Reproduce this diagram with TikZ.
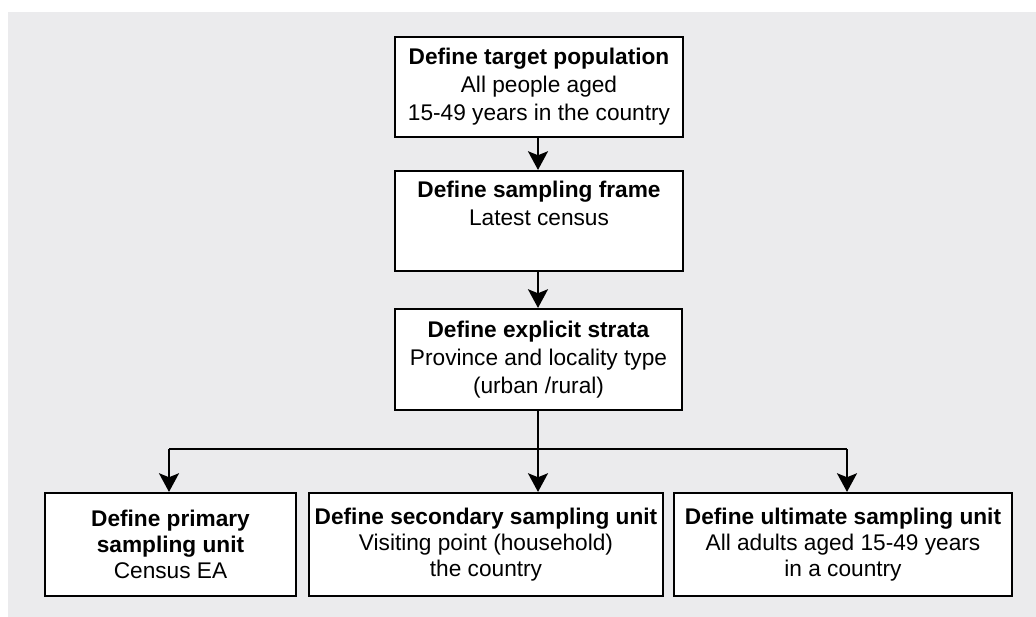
\documentclass[tikz,border=0pt]{standalone}
\usepackage{fontspec}
\setmainfont{Liberation Sans}
\usetikzlibrary{arrows.meta}
\definecolor{bggrey}{HTML}{EBEBED}
\begin{document}
\begin{tikzpicture}[x=0.75pt,y=-0.75pt,
  boxstyle/.style={draw=black, fill=white, line width=1.6pt, align=center,
    font=\fontsize{17pt}{21pt}\selectfont, inner sep=0pt},
  lowbox/.style={boxstyle, font=\fontsize{17pt}{19.6pt}\selectfont},
  conn/.style={line width=1.6pt, -{Stealth[length=14pt,width=15pt,inset=3pt]}},
  plain/.style={line width=1.6pt}]
\useasboundingbox (0,0) rectangle (1036,617);
\fill[bggrey] (8,12) rectangle (1036,617);

\node[boxstyle, minimum width=288*0.75pt, minimum height=100*0.75pt] (target) at (539,87)
  {\textbf{Define target population}\\All people aged\\15-49 years in the country};
\node[boxstyle, minimum width=288*0.75pt, minimum height=100*0.75pt] (frame) at (539,221)
  {\textbf{Define sampling frame}\\Latest census\\\strut};
\node[boxstyle, minimum width=287*0.75pt, minimum height=101*0.75pt] (strata) at (538.5,359.5)
  {\textbf{Define explicit strata}\\Province and locality type\\(urban /rural)};

\node[lowbox, minimum width=251*0.75pt, minimum height=103*0.75pt] (psu) at (170.5,544.5)
  {\textbf{Define primary}\\\textbf{sampling unit}\\Census EA};
\node[lowbox, minimum width=354*0.75pt, minimum height=103*0.75pt] (ssu) at (486,544.5)
  {\textbf{Define secondary sampling unit}\\Visiting point (household)\\the country};
\node[lowbox, minimum width=338*0.75pt, minimum height=103*0.75pt] (usu) at (843,544.5)
  {\textbf{Define ultimate sampling unit}\\All adults aged 15-49 years\\in a country};

\coordinate (split) at (538,449);
\coordinate (hl) at (169,449);
\coordinate (hr) at (847,449);

\draw[conn] (target.south -| 538,0) -- (frame.north -| 538,0);
\draw[conn] (frame.south -| 538,0) -- (strata.north -| 538,0);
\draw[plain] (strata.south -| 538,0) -- (split);
\draw[plain] (hl) -- (hr);
\draw[conn] (hl) -- (psu.north -| hl);
\draw[conn] (split) -- (ssu.north -| split);
\draw[conn] (hr) -- (usu.north -| hr);
\end{tikzpicture}
\end{document}
